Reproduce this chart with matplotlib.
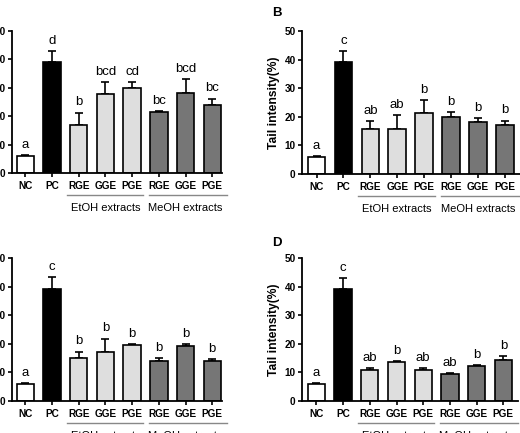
import numpy as np
import matplotlib
matplotlib.use("Agg")
import matplotlib.pyplot as plt

plt.rcParams['font.family'] = ['Liberation Sans', 'DejaVu Sans']

groups = ["NC", "PC", "RGE", "GGE", "PGE", "RGE", "GGE", "PGE"]
colors = ["white", "black", "#dedede", "#dedede", "#dedede",
          "#767676", "#767676", "#767676"]

# panel A
a_vals = [6.1, 39.1, 17.0, 27.8, 29.9, 21.6, 28.1, 23.9]
a_errs = [0.3, 3.9, 4.3, 4.3, 2.2, 0.3, 4.9, 2.3]
a_lets = ["a", "d", "b", "bcd", "cd", "bc", "bcd", "bc"]

# panel B
b_vals = [5.9, 39.1, 15.9, 15.6, 21.2, 20.1, 18.3, 17.2]
b_errs = [0.3, 3.8, 2.5, 4.9, 4.6, 1.5, 1.2, 1.5]
b_lets = ["a", "c", "ab", "ab", "b", "b", "b", "b"]

# panel C
c_vals = [5.9, 39.2, 14.9, 17.2, 19.6, 13.9, 19.2, 14.1]
c_errs = [0.3, 4.0, 2.4, 4.6, 0.2, 1.0, 0.7, 0.7]
c_lets = ["a", "c", "b", "b", "b", "b", "b", "b"]

# panel D
d_vals = [5.9, 39.0, 11.0, 13.7, 10.9, 9.6, 12.4, 14.5]
d_errs = [0.3, 4.0, 0.4, 0.4, 0.6, 0.1, 0.2, 1.2]
d_lets = ["a", "c", "ab", "b", "ab", "ab", "b", "b"]

W, H = 520, 433
fig = plt.figure(figsize=(W / 100, H / 100), dpi=100)


def px_axes(left, y0, top, x0, xmax, step):
    right = left + (xmax - x0) * step
    return fig.add_axes([left / W, (H - y0) / H, (right - left) / W, (y0 - top) / H])


def draw_panel(ax, vals, errs, lets, xlim, ylabel=True):
    x = np.arange(len(vals))
    ax.bar(x, vals, width=0.65, color=colors, edgecolor="black", linewidth=1.2, zorder=2)
    ax.errorbar(x, vals, yerr=[np.zeros(len(errs)), errs], fmt="none",
                ecolor="black", elinewidth=1.2, capsize=3, capthick=1.2, zorder=1)
    for xi, v, e, l in zip(x, vals, errs, lets):
        ax.annotate(l, (xi, v + e), xytext=(0, 3), textcoords="offset points",
                    ha="center", va="bottom", fontsize=9.5)
    ax.set_xlim(*xlim)
    ax.set_ylim(0, 50)
    ax.set_yticks([0, 10, 20, 30, 40, 50])
    ax.set_xticks(x)
    ax.set_xticklabels(groups, fontweight="bold", fontsize=7.2)
    for t in ax.get_yticklabels():
        t.set_fontweight("bold")
        t.set_fontsize(7.2)
    ax.tick_params(axis="y", length=3, width=1.2, pad=1.5)
    ax.tick_params(axis="x", length=3, width=1.2, pad=2.5)
    for s in ["top", "right"]:
        ax.spines[s].set_visible(False)
    for s in ["left", "bottom"]:
        ax.spines[s].set_linewidth(1.3)
    if ylabel:
        ax.set_ylabel("Tail intensity(%)", fontweight="bold", fontsize=8.7, labelpad=3)
    tr = ax.get_xaxis_transform()
    hfrac = 22 / 142
    ax.plot([1.56, 4.42], [-hfrac, -hfrac], transform=tr, color="#888888",
            lw=1, clip_on=False)
    ax.plot([4.63, 7.55], [-hfrac, -hfrac], transform=tr, color="#888888",
            lw=1, clip_on=False)
    ax.text(3, -35 / 142, "EtOH extracts", transform=tr, ha="center", va="center", fontsize=8)
    ax.text(6, -35 / 142, "MeOH extracts", transform=tr, ha="center", va="center", fontsize=8)


xl_left = (-0.5, 7.36)
xl_right = (-0.54, 7.55)

axA = px_axes(12, 173, 31, xl_left[0], xl_left[1], 26.7)
draw_panel(axA, a_vals, a_errs, a_lets, xl_left)

axB = px_axes(302, 174, 31, xl_right[0], xl_right[1], 26.9)
draw_panel(axB, b_vals, b_errs, b_lets, xl_right)

axC = px_axes(12, 401, 258, xl_left[0], xl_left[1], 26.7)
draw_panel(axC, c_vals, c_errs, c_lets, xl_left)

axD = px_axes(302, 401, 258, xl_right[0], xl_right[1], 26.7)
draw_panel(axD, d_vals, d_errs, d_lets, xl_right)

fig.text(277 / W, 1 - 13 / H, "B", fontweight="bold", fontsize=9.5, ha="center", va="center")
fig.text(277 / W, 1 - 243 / H, "D", fontweight="bold", fontsize=9.5, ha="center", va="center")

fig.savefig("out.png", dpi=100)
